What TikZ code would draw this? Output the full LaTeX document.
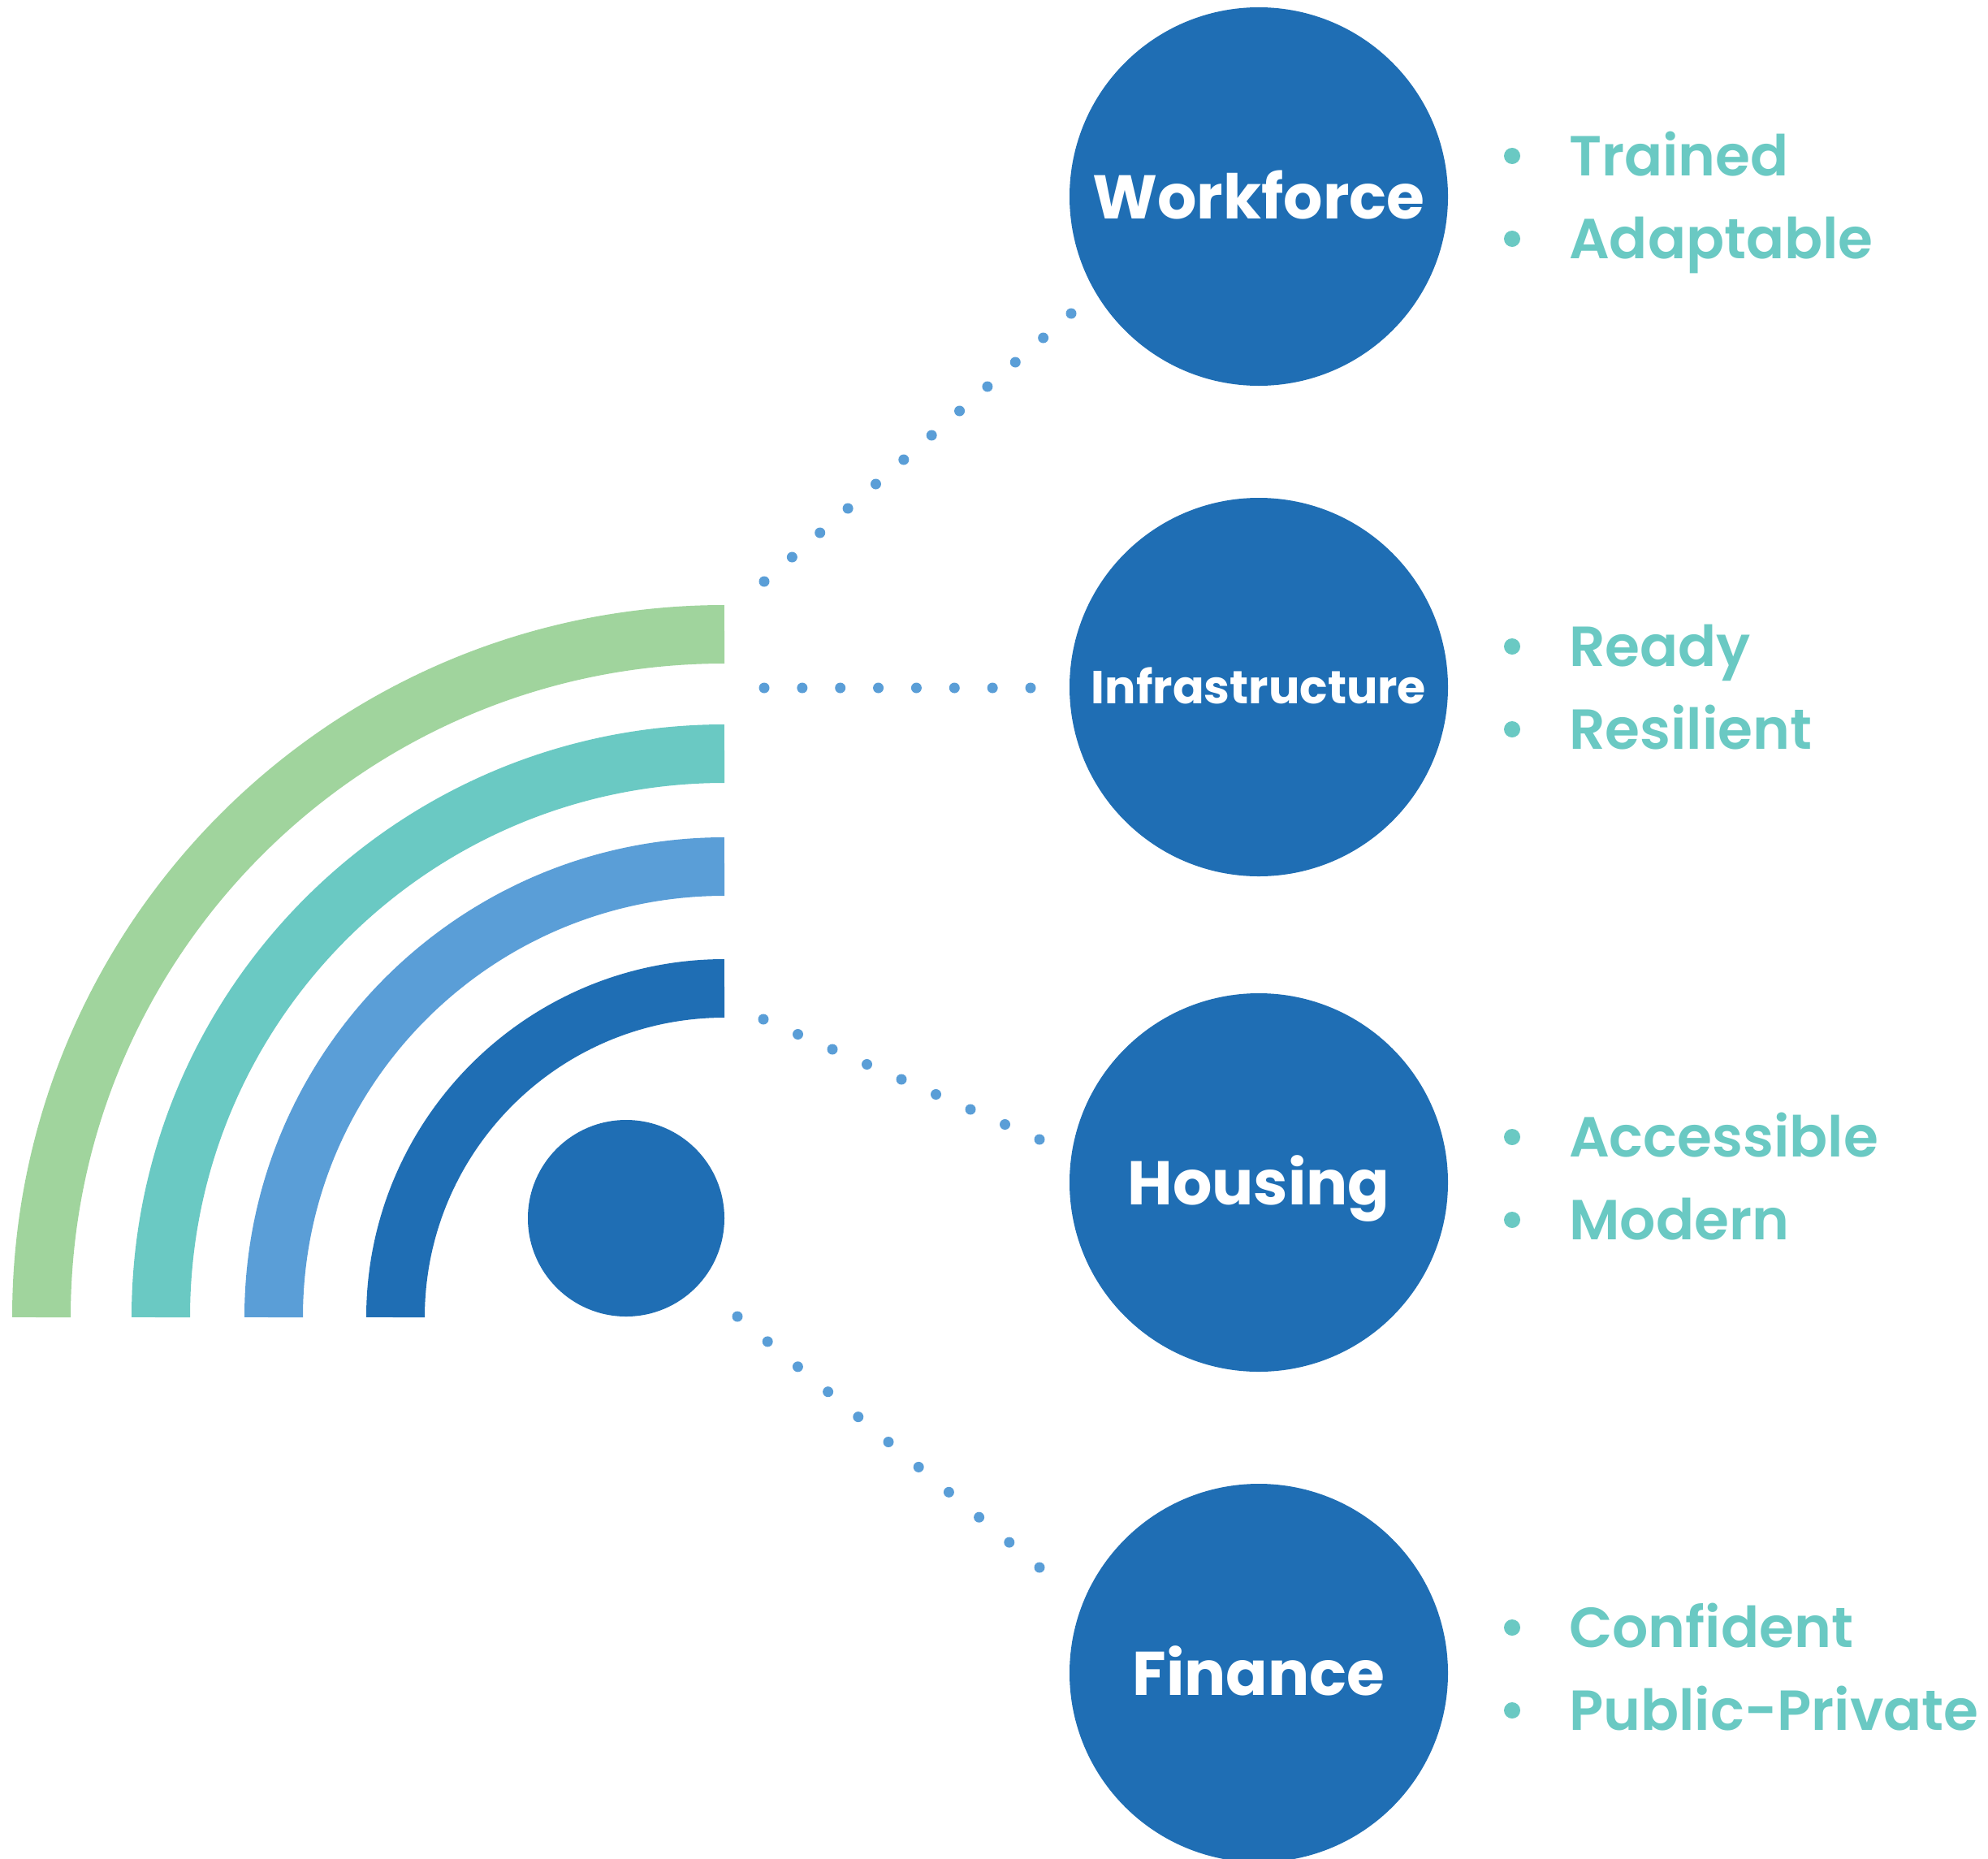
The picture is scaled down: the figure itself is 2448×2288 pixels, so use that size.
\documentclass[tikz,border=0pt]{standalone}
\usepackage{fontspec}
\setmainfont{Poppins}
\newfontfamily\popsemi{Poppins SemiBold}
\usetikzlibrary{calc}
\definecolor{cblue}{HTML}{1F6EB4}
\definecolor{clight}{HTML}{5A9ED7}
\definecolor{cteal}{HTML}{6AC9C3}
\definecolor{cgreen}{HTML}{A0D49D}
\definecolor{cdot}{HTML}{5A9ED7}
\tikzset{
  arcband/.style={line width=72pt, line cap=butt},
  bigcirc/.style={circle, fill=cblue, minimum size=466pt, inner sep=0pt, text=white,
    font=\fontsize{76}{80}\selectfont\bfseries, text height=54pt, text depth=0pt},
  hubcirc/.style={circle, fill=cblue, minimum size=242pt, inner sep=0pt},
  bullettext/.style={anchor=base west, inner sep=0pt, text=cteal,
    font=\popsemi\fontsize{69.5}{80}\selectfont},
  bulletdot/.style={fill=cteal},
  dotc/.style={fill=cdot}
}
\begin{document}
\begin{tikzpicture}[x=1pt,y=-1pt]
\useasboundingbox (0,0) rectangle (2448,2288);
% arcs centred at (892,1622)
\coordinate (O) at (892,1622);
\draw[arcband, cgreen] ($(O)+(0,-841)$) arc[start angle=270, end angle=180, radius=841];
\draw[arcband, cteal]  ($(O)+(0,-694)$) arc[start angle=270, end angle=180, radius=694];
\draw[arcband, clight] ($(O)+(0,-555)$) arc[start angle=270, end angle=180, radius=555];
\draw[arcband, cblue]  ($(O)+(0,-405)$) arc[start angle=270, end angle=180, radius=405];
\node[hubcirc] (hub) at (771,1500) {};
% big circles
\node[bigcirc] (wf) at (1550,242) {Workforce};
\node[bigcirc, font=\fontsize{57}{60}\selectfont\bfseries, text height=40pt] (inf) at (1550,846) {Infrastructure};
\node[bigcirc, yshift=-6pt] (hs) at (1550,1450) {Housing};
\node[bigcirc, yshift=-6pt] (fin) at (1550,2054) {Finance};
% dotted connectors
\coordinate (wfA) at (941,716);   \coordinate (wfB) at (1319,386);
\coordinate (infA) at (941,847);  \coordinate (infB) at (1269,847);
\coordinate (hsA) at (940,1255);  \coordinate (hsB) at (1280,1403);
\coordinate (finA) at (908,1621); \coordinate (finB) at (1280,1930);
\foreach \i in {0,...,11} \fill[dotc] ($(wfA)!\i/11!(wfB)$) circle (6.5);
\foreach \i in {0,...,7} \fill[dotc] ($(infA)!\i/7!(infB)$) circle (6.5);
\foreach \i in {0,...,8} \fill[dotc] ($(hsA)!\i/8!(hsB)$) circle (6.5);
\foreach \i in {0,...,10} \fill[dotc] ($(finA)!\i/10!(finB)$) circle (6.5);
% bullet lists
\foreach \cy/\a/\b/\n in {242/Trained/Adaptable/w, 846/Ready/Resilient/i, 1450/Accessible/Modern/h, 2054/Confident/Public-Private/f}{
  \node[bullettext] (\n1) at (1932,\cy-26) {\a};
  \node[bullettext] (\n2) at (1932,\cy+76) {\b};
  \fill[bulletdot] (1862,\cy-50) circle (10);
  \fill[bulletdot] (1862,\cy+52) circle (10);
}
\end{tikzpicture}
\end{document}
